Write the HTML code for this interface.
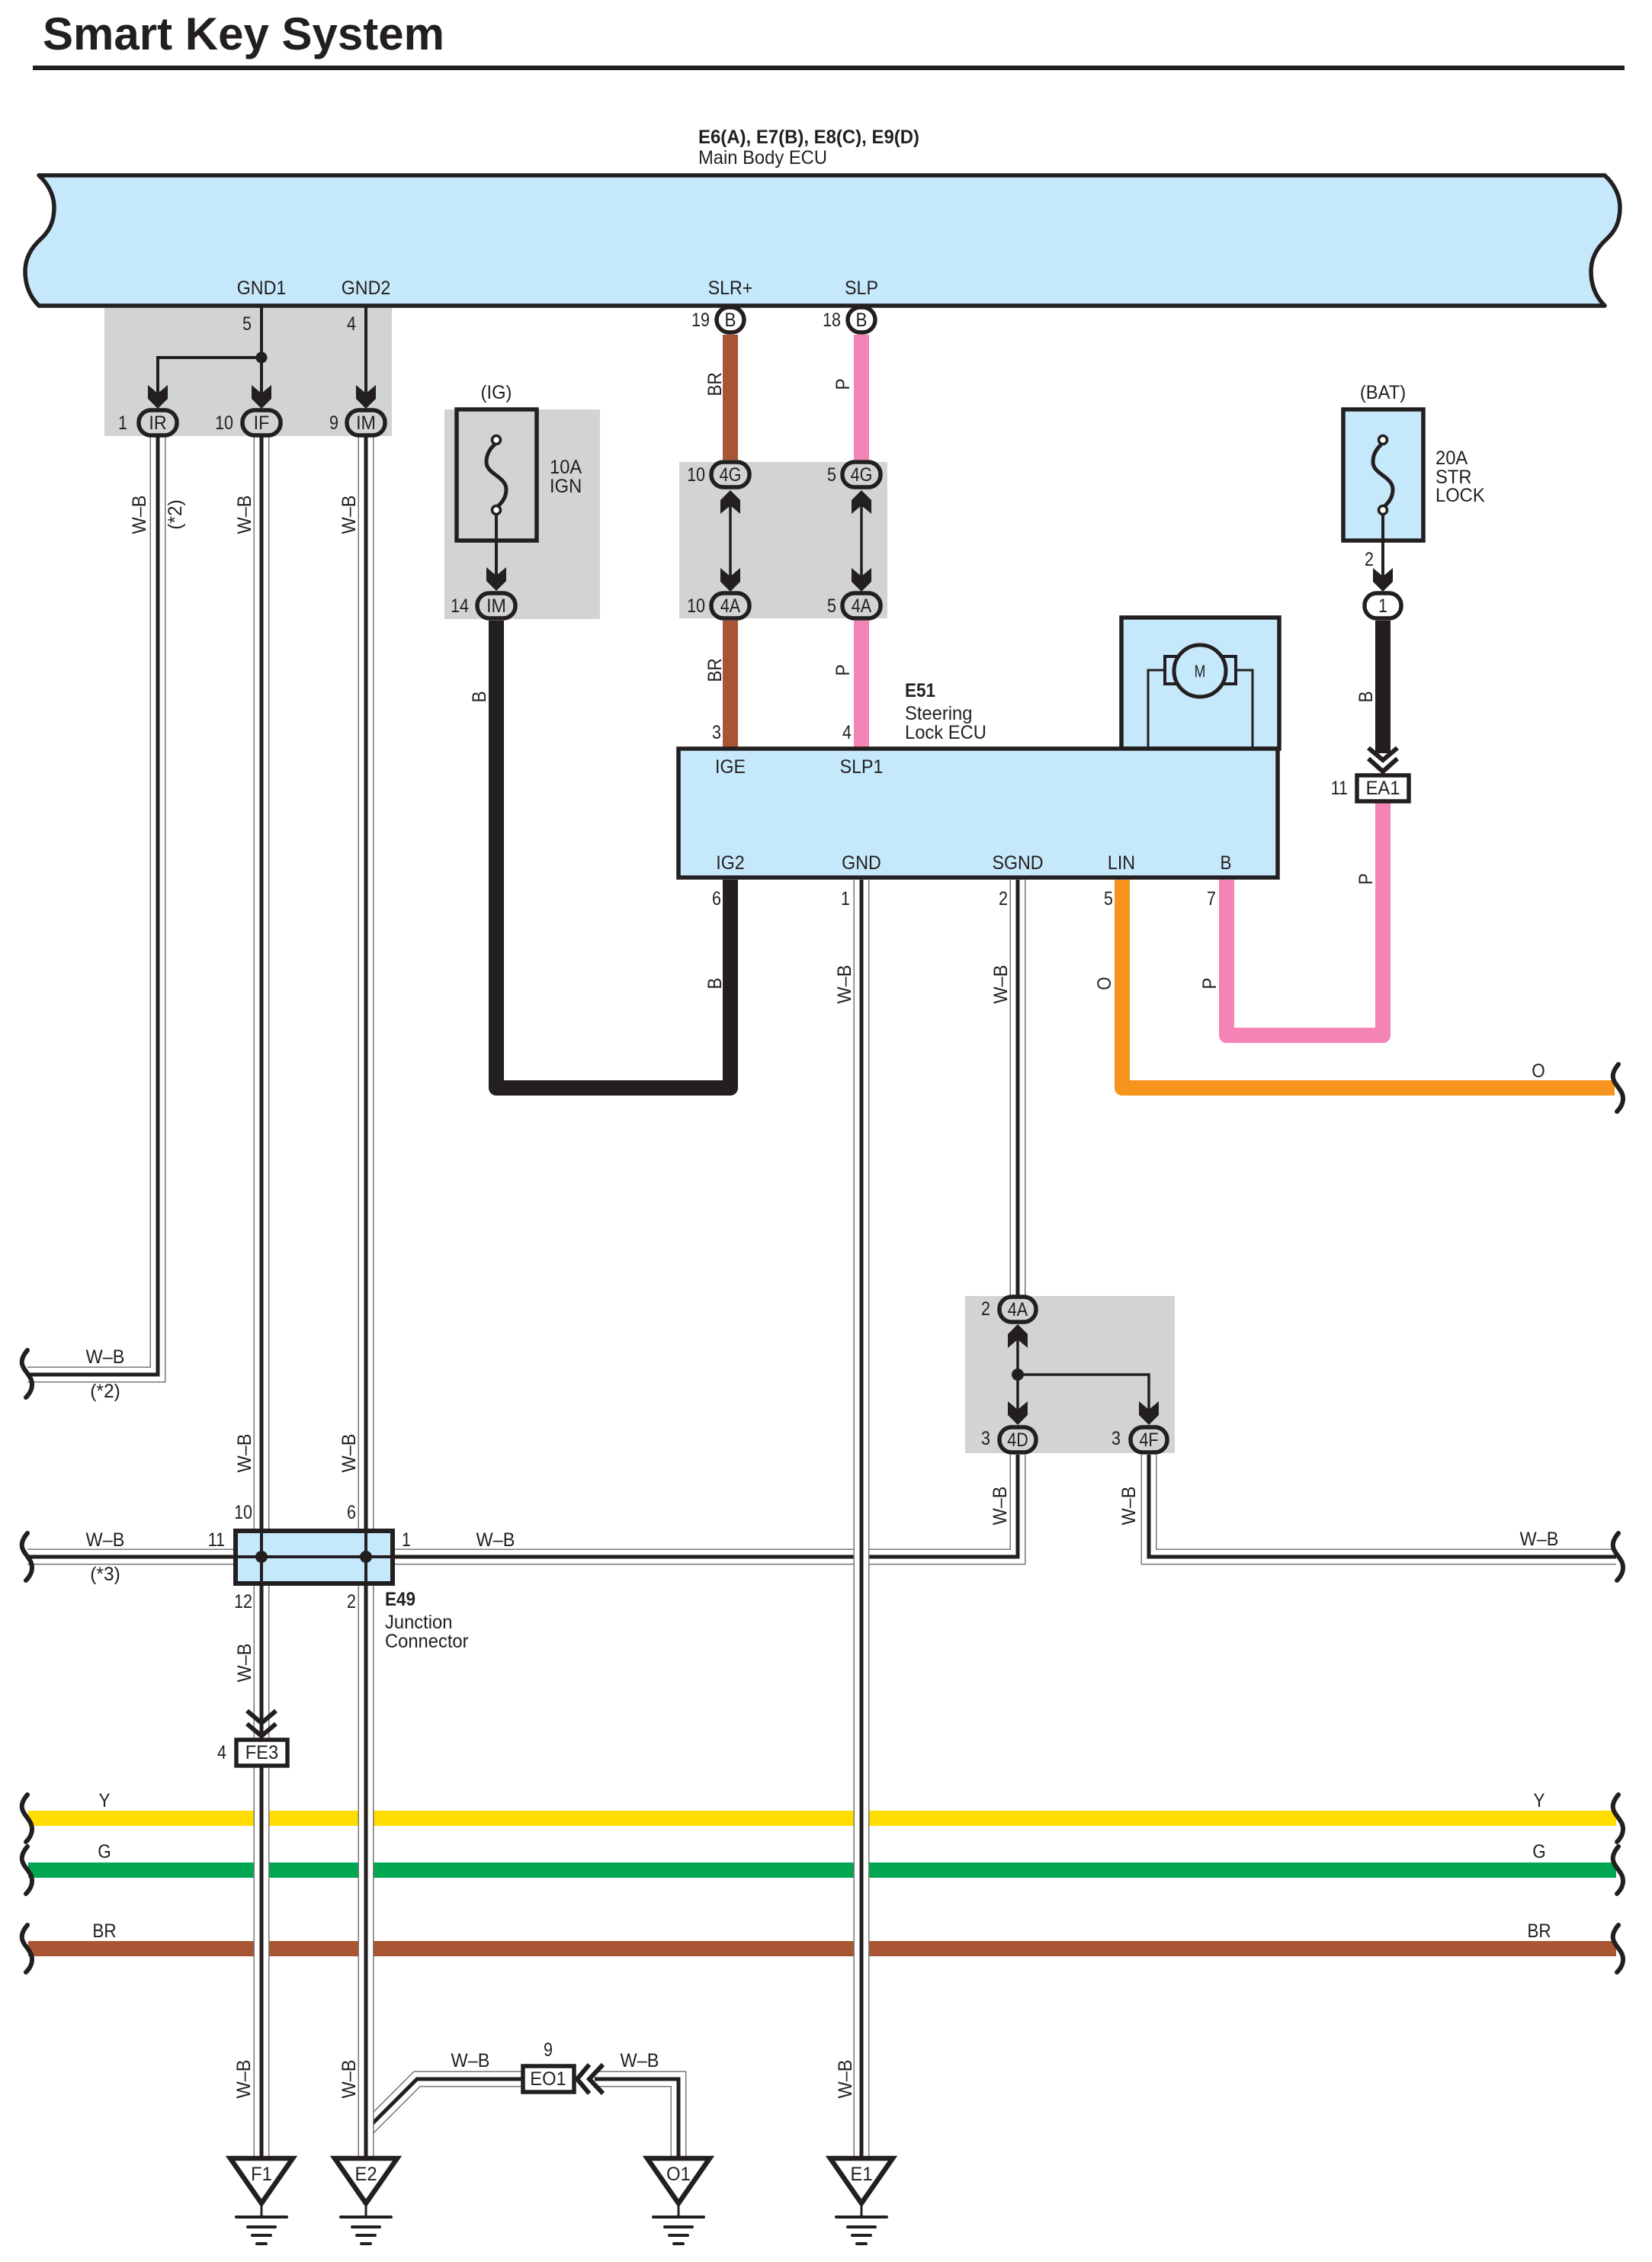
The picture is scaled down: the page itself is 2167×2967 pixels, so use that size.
<!DOCTYPE html>
<html><head><meta charset="utf-8"><title>Smart Key System</title>
<style>
html,body{margin:0;padding:0;background:#fff}
svg{display:block}
text{font-family:"Liberation Sans",sans-serif;font-size:25px;fill:#231f20}
.m{text-anchor:middle}.e{text-anchor:end}
.b{font-weight:bold}
.wo,.wi,.wb,.c{fill:none}
.wo{stroke:#777;stroke-width:21}
.wi{stroke:#fff;stroke-width:18}
.wb{stroke:#231f20;stroke-width:5}
.c{stroke-width:20;stroke-linejoin:round;stroke-linecap:butt}
.k{stroke:#231f20;fill:none}
.con{stroke:#231f20;stroke-width:5.5;fill:#d1d3d4}
.cw{stroke:#231f20;stroke-width:5.5;fill:#fff}
</style></head><body>
<svg width="2167" height="2967" viewBox="0 0 2167 2967" xmlns="http://www.w3.org/2000/svg">
<defs>
<path id="a" d="M0,0 L-13,-13 L-13,-31 L0,-20 L13,-31 L13,-13 Z" fill="#231f20"/>
<path id="w" d="M36,-31 C30,-24 28,-18 29,-13 C30,-6 38,0 41,8 C44,17 40,25 34,31" fill="none" stroke="#231f20" stroke-width="6" stroke-linecap="round"/>
<g id="gnd">
<path d="M-41,-61 L41,-61 L0,-2 Z" fill="#fff" stroke="#231f20" stroke-width="6.5"/>
<path d="M0,-3 V16" stroke="#231f20" stroke-width="3"/>
<path d="M-33,16 H33 M-18,29 H18 M-12,40 H12 M-6,51 H6" stroke="#231f20" stroke-width="4" stroke-linecap="round"/>
</g>
<g id="fuse">
<path d="M-2,6 C-10,13 -13,21 -13,29 C-13,45 13,48 13,65 C13,74 9,81 2,87" fill="none" stroke="#231f20" stroke-width="5"/>
<circle cx="0" cy="0" r="5.5" fill="#fff" stroke="#231f20" stroke-width="3.5"/>
<circle cx="0" cy="92" r="5.5" fill="#fff" stroke="#231f20" stroke-width="3.5"/>
</g>
</defs>

<rect width="2167" height="2967" fill="#fff"/>

<!-- title -->
<text x="56" y="65" class="b" style="font-size:60px">Smart Key System</text>
<rect x="43" y="86" width="2088" height="6" fill="#231f20"/>
<text x="916" y="188" class="b" textLength="290" lengthAdjust="spacingAndGlyphs">E6(A), E7(B), E8(C), E9(D)</text>
<text x="916" y="215" textLength="169" lengthAdjust="spacingAndGlyphs">Main Body ECU</text>

<!-- gray shaded boxes -->
<rect x="137" y="401" width="377" height="171" fill="#d1d3d4"/>
<rect x="583" y="537" width="204" height="275" fill="#d1d3d4"/>
<rect x="891" y="606" width="273" height="205" fill="#d1d3d4"/>
<rect x="1266" y="1700" width="275" height="206" fill="#d1d3d4"/>

<!-- Main ECU -->
<path d="M51,230 L2105,230 C2116,240 2125,255 2125,272 C2125,292 2118,304 2107,314 C2096,324 2087,338 2087,356 C2087,375 2094,390 2105,401 L51,401 C40,390 33,375 33,356 C33,338 42,324 53,314 C64,304 71,292 71,272 C71,255 62,240 51,230 Z" fill="#c5e8fb" stroke="#231f20" stroke-width="5.5" stroke-linejoin="round"/>

<!-- coloured buses -->
<rect x="37" y="2375" width="2083" height="20" fill="#ffdd00"/>
<rect x="37" y="2443" width="2083" height="20" fill="#00a651"/>
<rect x="37" y="2546" width="2083" height="20" fill="#a85533"/>

<!-- coloured wires -->
<path class="c" stroke="#a85533" d="M958,439 V603 M958,814 V984"/>
<path class="c" stroke="#f384b5" d="M1130,439 V603 M1130,814 V984"/>
<path class="c" stroke="#231f20" d="M651,814 V1427 H958 V1154"/>
<path class="c" stroke="#f7941d" d="M1472,1154 V1427 H2118"/>
<path class="c" stroke="#f384b5" d="M1609,1154 V1358 H1814 V1050"/>
<path class="c" stroke="#231f20" d="M1814,814 V988"/>

<!-- horizontal signal wires (below verticals) -->
<g>
<path class="wo" d="M36,2042 H320 M515,2042 H1335 V1908 M1507,1908 V2042 H2120 M207,573 V1803 H36 M780,2727 H890 V2828 M480,2794 L547,2727 H690"/>
<path class="wi" d="M36,2042 H320 M515,2042 H1335 V1908 M1507,1908 V2042 H2120 M207,573 V1803 H36 M780,2727 H890 V2828 M480,2794 L547,2727 H690"/>
<path class="wb" d="M36,2042 H320 M515,2042 H1335 V1908 M1507,1908 V2042 H2120 M207,573 V1803 H36 M780,2727 H890 V2828 M480,2794 L547,2727 H690"/>
</g>
<!-- vertical signal wires -->
<g>
<path class="wo" d="M343,573 V2828 M480,573 V2828 M1130,1154 V2828 M1335,1154 V1700"/>
<path class="wi" d="M343,573 V2828 M480,573 V2828 M1130,1154 V2828 M1335,1154 V1700"/>
<path class="wb" d="M343,573 V2828 M480,573 V2828 M1130,1154 V2828 M1335,1154 V1700"/>
</g>

<!-- wavy ends -->
<use href="#w" transform="translate(0,1802)"/>
<use href="#w" transform="translate(0,2042)"/>
<use href="#w" transform="translate(0,2385)"/>
<use href="#w" transform="translate(0,2453)"/>
<use href="#w" transform="translate(0,2556)"/>
<use href="#w" transform="translate(2087,1427)"/>
<use href="#w" transform="translate(2087,2042)"/>
<use href="#w" transform="translate(2087,2385)"/>
<use href="#w" transform="translate(2087,2453)"/>
<use href="#w" transform="translate(2087,2556)"/>

<!-- gnd lines in top gray box -->
<path class="k" stroke-width="4" d="M343,401 V520 M480,401 V520 M343,469 H207 V520"/>
<circle cx="343" cy="469" r="7.5" fill="#231f20"/>
<use href="#a" transform="translate(207,536)"/>
<use href="#a" transform="translate(343,536)"/>
<use href="#a" transform="translate(480,536)"/>

<!-- IG fuse -->
<rect x="599" y="537" width="105" height="172" fill="none" stroke="#231f20" stroke-width="5.5"/>
<use href="#fuse" transform="translate(651,577)"/>
<path class="k" stroke-width="4" d="M651,674 V760"/>
<use href="#a" transform="translate(651,775)"/>

<!-- BAT fuse -->
<rect x="1762" y="537" width="105" height="172" fill="#c5e8fb" stroke="#231f20" stroke-width="5.5"/>
<use href="#fuse" transform="translate(1814,577)"/>
<path class="k" stroke-width="4" d="M1814,674 V760"/>
<use href="#a" transform="translate(1814,776)"/>

<!-- mid gray box links -->
<path class="k" stroke-width="3.5" d="M958,660 V760 M1130,660 V760"/>
<use href="#a" transform="translate(958,643) scale(1,-1)"/>
<use href="#a" transform="translate(1130,643) scale(1,-1)"/>
<use href="#a" transform="translate(958,776)"/>
<use href="#a" transform="translate(1130,776)"/>

<!-- 4A/4D/4F box -->
<path class="k" stroke-width="3.5" d="M1335,1755 V1855 M1335,1803 H1507 V1855"/>
<ellipse cx="1335" cy="1803" rx="8" ry="8" fill="#231f20"/>
<use href="#a" transform="translate(1335,1737) scale(1,-1)"/>
<use href="#a" transform="translate(1335,1869)"/>
<use href="#a" transform="translate(1507,1869)"/>

<!-- Steering Lock ECU -->
<rect x="1471" y="810" width="207" height="172" fill="#c5e8fb" stroke="#231f20" stroke-width="5.5"/>
<path class="k" stroke-width="3" d="M1506,982 V879 H1530 M1643,982 V879 H1620"/>
<rect x="1528" y="861" width="93" height="36" fill="#c5e8fb" stroke="#231f20" stroke-width="4"/>
<circle cx="1574" cy="880" r="34" fill="#c5e8fb" stroke="#231f20" stroke-width="5"/>
<text class="m" transform="translate(1574,888) scale(.8,1)" style="font-size:22px">M</text>
<rect x="891" y="984" width="786" height="169" fill="#c5e8fb" stroke="#231f20" stroke-width="5.5" transform="translate(-1,-2)"/>

<!-- chevrons -->
<path class="k" stroke-width="6" d="M1795,981 L1814,997 L1833,981 M1795,995 L1814,1012 L1833,995"/>
<path class="k" stroke-width="6" d="M324,2244 L343,2260 L362,2244 M324,2261 L343,2277 L362,2261"/>
<path class="k" stroke-width="6" d="M773,2708 L757,2727 L773,2746 M791,2708 L773,2727 L791,2746"/>

<!-- E49 junction connector -->
<rect x="309" y="2008" width="206" height="69" fill="#c5e8fb" stroke="#231f20" stroke-width="6"/>
<path class="k" stroke-width="4" d="M343,2008 V2077 M480,2008 V2077 M309,2042 H515"/>
<circle cx="343" cy="2042" r="8" fill="#231f20"/>
<circle cx="480" cy="2042" r="8" fill="#231f20"/>

<!-- connectors -->
<rect class="con" x="182" y="538" width="50" height="33" rx="16"/>
<rect class="con" x="318" y="538" width="50" height="33" rx="16"/>
<rect class="con" x="455" y="538" width="50" height="33" rx="16"/>
<rect class="con" x="626" y="778" width="50" height="33" rx="16"/>
<rect class="con" x="933" y="606" width="50" height="33" rx="16"/>
<rect class="con" x="1105" y="606" width="50" height="33" rx="16"/>
<rect class="con" x="933" y="778" width="50" height="33" rx="16"/>
<rect class="con" x="1105" y="778" width="50" height="33" rx="16"/>
<rect class="con" x="1311" y="1701" width="48" height="33" rx="16"/>
<rect class="con" x="1311" y="1872" width="48" height="33" rx="16"/>
<rect class="con" x="1483" y="1872" width="48" height="33" rx="16"/>
<rect class="cw" x="940" y="403" width="36" height="33" rx="16.5"/>
<rect class="cw" x="1112" y="403" width="36" height="33" rx="16.5"/>
<rect class="cw" x="1790" y="778" width="48" height="33" rx="16"/>
<rect class="cw" x="1780" y="1017" width="68" height="34"/>
<rect class="cw" x="310" y="2282" width="67" height="34"/>
<rect class="cw" x="686" y="2710" width="67" height="34"/>

<!-- grounds -->
<use href="#gnd" transform="translate(343,2892)"/>
<use href="#gnd" transform="translate(480,2892)"/>
<use href="#gnd" transform="translate(890,2892)"/>
<use href="#gnd" transform="translate(1130,2892)"/>

<!-- ECU pin labels -->
<text class="m" transform="translate(343,386) scale(.93,1)">GND1</text>
<text class="m" transform="translate(480,386) scale(.93,1)">GND2</text>
<text class="m" transform="translate(958,386) scale(.93,1)">SLR+</text>
<text class="m" transform="translate(1130,386) scale(.93,1)">SLP</text>
<text class="m" transform="translate(324,433) scale(.86,1)">5</text>
<text class="m" transform="translate(461,433) scale(.86,1)">4</text>
<text class="e" transform="translate(931,428) scale(.86,1)">19</text>
<text class="e" transform="translate(1103,428) scale(.86,1)">18</text>
<text class="m" transform="translate(958,428) scale(.9,1)">B</text>
<text class="m" transform="translate(1130,428) scale(.9,1)">B</text>

<!-- connector labels -->
<text class="m" transform="translate(207,563) scale(.93,1)">IR</text>
<text class="m" transform="translate(343,563) scale(.93,1)">IF</text>
<text class="m" transform="translate(480,563) scale(.93,1)">IM</text>
<text class="m" transform="translate(651,803) scale(.93,1)">IM</text>
<text class="e" transform="translate(167,563) scale(.86,1)">1</text>
<text class="e" transform="translate(306,563) scale(.86,1)">10</text>
<text class="e" transform="translate(444,563) scale(.86,1)">9</text>
<text class="e" transform="translate(615,803) scale(.86,1)">14</text>
<text class="m" transform="translate(651,523) scale(.95,1)">(IG)</text>
<text transform="translate(721,621) scale(.95,1)">10A</text>
<text transform="translate(721,646) scale(.95,1)">IGN</text>

<text class="m" transform="translate(958,631) scale(.86,1)">4G</text>
<text class="m" transform="translate(1130,631) scale(.86,1)">4G</text>
<text class="m" transform="translate(958,803) scale(.86,1)">4A</text>
<text class="m" transform="translate(1130,803) scale(.86,1)">4A</text>
<text class="e" transform="translate(925,631) scale(.86,1)">10</text>
<text class="e" transform="translate(1097,631) scale(.86,1)">5</text>
<text class="e" transform="translate(925,803) scale(.86,1)">10</text>
<text class="e" transform="translate(1097,803) scale(.86,1)">5</text>

<text class="e" transform="translate(946,969) scale(.86,1)">3</text>
<text class="e" transform="translate(1117,969) scale(.86,1)">4</text>
<text class="b" transform="translate(1187,914) scale(.9,1)">E51</text>
<text transform="translate(1187,944) scale(.95,1)">Steering</text>
<text transform="translate(1187,969) scale(.95,1)">Lock ECU</text>

<text class="m" transform="translate(958,1014) scale(.93,1)">IGE</text>
<text class="m" transform="translate(1130,1014) scale(.93,1)">SLP1</text>
<text class="m" transform="translate(958,1140) scale(.93,1)">IG2</text>
<text class="m" transform="translate(1130,1140) scale(.93,1)">GND</text>
<text class="m" transform="translate(1335,1140) scale(.93,1)">SGND</text>
<text class="m" transform="translate(1471,1140) scale(.93,1)">LIN</text>
<text class="m" transform="translate(1608,1140) scale(.9,1)">B</text>
<text class="e" transform="translate(946,1187) scale(.86,1)">6</text>
<text class="e" transform="translate(1115,1187) scale(.86,1)">1</text>
<text class="e" transform="translate(1322,1187) scale(.86,1)">2</text>
<text class="e" transform="translate(1460,1187) scale(.86,1)">5</text>
<text class="e" transform="translate(1595,1187) scale(.86,1)">7</text>

<text class="m" transform="translate(1814,523) scale(.95,1)">(BAT)</text>
<text transform="translate(1883,609) scale(.95,1)">20A</text>
<text transform="translate(1883,634) scale(.95,1)">STR</text>
<text transform="translate(1883,658) scale(.95,1)">LOCK</text>
<text class="e" transform="translate(1802,742) scale(.86,1)">2</text>
<text class="m" transform="translate(1814,803) scale(.86,1)">1</text>
<text class="m" transform="translate(1814,1042) scale(.95,1)">EA1</text>
<text class="e" transform="translate(1768,1042) scale(.86,1)">11</text>
<text class="m" transform="translate(2018,1413) scale(.9,1)">O</text>

<text class="m" transform="translate(1335,1726) scale(.86,1)">4A</text>
<text class="m" transform="translate(1335,1897) scale(.86,1)">4D</text>
<text class="m" transform="translate(1507,1897) scale(.86,1)">4F</text>
<text class="e" transform="translate(1299,1725) scale(.86,1)">2</text>
<text class="e" transform="translate(1299,1895) scale(.86,1)">3</text>
<text class="e" transform="translate(1470,1895) scale(.86,1)">3</text>

<!-- rotated labels -->
<text class="m" transform="translate(191,675) rotate(-90) scale(.94,1)">W–B</text>
<text class="m" transform="translate(329,675) rotate(-90) scale(.94,1)">W–B</text>
<text class="m" transform="translate(466,675) rotate(-90) scale(.94,1)">W–B</text>
<text class="m" transform="translate(238,675) rotate(-90) scale(.98,1)">(*2)</text>
<text class="m" transform="translate(946,504) rotate(-90) scale(.9,1)">BR</text>
<text class="m" transform="translate(946,879) rotate(-90) scale(.9,1)">BR</text>
<text class="m" transform="translate(1114,504) rotate(-90) scale(.9,1)">P</text>
<text class="m" transform="translate(1114,879) rotate(-90) scale(.9,1)">P</text>
<text class="m" transform="translate(637,914) rotate(-90) scale(.9,1)">B</text>
<text class="m" transform="translate(946,1290) rotate(-90) scale(.9,1)">B</text>
<text class="m" transform="translate(1116,1291) rotate(-90) scale(.94,1)">W–B</text>
<text class="m" transform="translate(1321,1291) rotate(-90) scale(.94,1)">W–B</text>
<text class="m" transform="translate(1457,1290) rotate(-90) scale(.9,1)">O</text>
<text class="m" transform="translate(1595,1290) rotate(-90) scale(.9,1)">P</text>
<text class="m" transform="translate(1800,914) rotate(-90) scale(.9,1)">B</text>
<text class="m" transform="translate(1800,1153) rotate(-90) scale(.9,1)">P</text>
<text class="m" transform="translate(1320,1975) rotate(-90) scale(.94,1)">W–B</text>
<text class="m" transform="translate(1489,1975) rotate(-90) scale(.94,1)">W–B</text>
<text class="m" transform="translate(329,1906) rotate(-90) scale(.94,1)">W–B</text>
<text class="m" transform="translate(466,1906) rotate(-90) scale(.94,1)">W–B</text>
<text class="m" transform="translate(329,2181) rotate(-90) scale(.94,1)">W–B</text>
<text class="m" transform="translate(328,2727) rotate(-90) scale(.94,1)">W–B</text>
<text class="m" transform="translate(466,2727) rotate(-90) scale(.94,1)">W–B</text>
<text class="m" transform="translate(1117,2727) rotate(-90) scale(.94,1)">W–B</text>

<!-- horizontal wire labels -->
<text class="m" transform="translate(138,1788) scale(.94,1)">W–B</text>
<text class="m" transform="translate(138,1833) scale(.98,1)">(*2)</text>
<text class="m" transform="translate(138,2028) scale(.94,1)">W–B</text>
<text class="m" transform="translate(138,2073) scale(.98,1)">(*3)</text>
<text class="m" transform="translate(650,2028) scale(.94,1)">W–B</text>
<text class="m" transform="translate(2019,2027) scale(.94,1)">W–B</text>
<text class="e" transform="translate(295,2028) scale(.86,1)">11</text>
<text class="e" transform="translate(331,1992) scale(.86,1)">10</text>
<text class="e" transform="translate(467,1992) scale(.86,1)">6</text>
<text transform="translate(527,2028) scale(.86,1)">1</text>
<text class="e" transform="translate(331,2109) scale(.86,1)">12</text>
<text class="e" transform="translate(467,2109) scale(.86,1)">2</text>
<text class="b" transform="translate(505,2106) scale(.9,1)">E49</text>
<text transform="translate(505,2136) scale(.95,1)">Junction</text>
<text transform="translate(505,2161) scale(.95,1)">Connector</text>
<text class="m" transform="translate(343.5,2307) scale(.95,1)">FE3</text>
<text class="e" transform="translate(297,2307) scale(.86,1)">4</text>

<text class="m" transform="translate(137,2370) scale(.9,1)">Y</text>
<text class="m" transform="translate(137,2437) scale(.9,1)">G</text>
<text class="m" transform="translate(137,2541) scale(.9,1)">BR</text>
<text class="m" transform="translate(2019,2370) scale(.9,1)">Y</text>
<text class="m" transform="translate(2019,2437) scale(.9,1)">G</text>
<text class="m" transform="translate(2019,2541) scale(.9,1)">BR</text>

<text class="m" transform="translate(617,2711) scale(.94,1)">W–B</text>
<text class="m" transform="translate(839,2711) scale(.94,1)">W–B</text>
<text class="m" transform="translate(719,2697) scale(.86,1)">9</text>
<text class="m" transform="translate(719,2735) scale(.95,1)">EO1</text>

<text class="m" transform="translate(343,2860) scale(.95,1)">F1</text>
<text class="m" transform="translate(480,2860) scale(.95,1)">E2</text>
<text class="m" transform="translate(890,2860) scale(.95,1)">O1</text>
<text class="m" transform="translate(1130,2860) scale(.95,1)">E1</text>
</svg>
</body></html>
